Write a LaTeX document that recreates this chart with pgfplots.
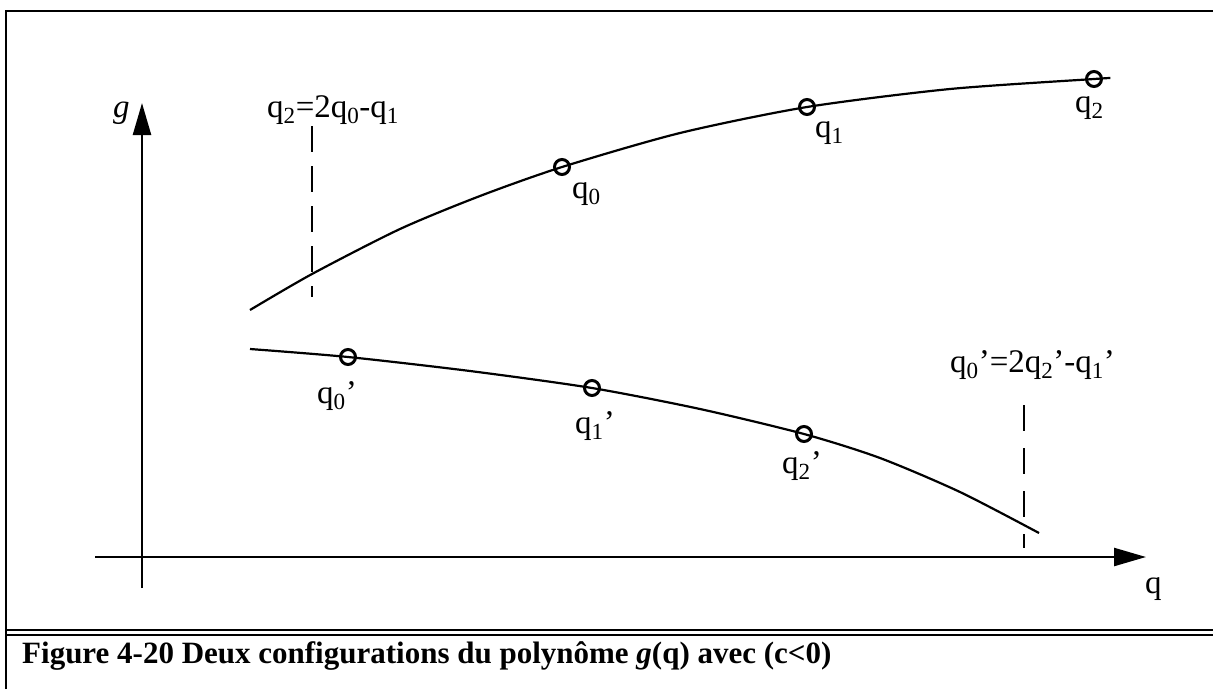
\documentclass[border=0pt]{standalone}
\usepackage{pgfplots}
\pgfplotsset{compat=1.18}
\usepackage{fontspec}
\setmainfont{Liberation Serif}
\usetikzlibrary{arrows.meta}
\begin{document}
\begin{tikzpicture}
\begin{axis}[
  x=1pt, y=1pt, scale only axis,
  xmin=0, xmax=1213, ymin=0, ymax=689, y dir=reverse,
  hide axis, clip=false,
]
% upper curve g(q)
\addplot[black, line width=2.2pt, smooth, tension=0.45] coordinates {
 (250,310) (312,274) (400,229) (480,196) (562,167) (680,133) (807,107) (950,89) (1094,79) (1110,78)};
\addplot[only marks, mark=o, mark size=7.5pt, mark options={line width=3pt, fill=white, draw=black}] coordinates {
 (562,167) (807,107) (1094,79)};
% lower curve
\addplot[black, line width=2.2pt, smooth, tension=0.45] coordinates {
 (250,349) (348,357) (470,371) (592,388) (700,409) (804,434) (880,458) (960,492) (1039,533)};
\addplot[only marks, mark=o, mark size=7.5pt, mark options={line width=3pt, fill=white, draw=black}] coordinates {
 (348,357) (592,388) (804,434)};
% dashed construction lines
\addplot[black, line width=2pt, dash pattern=on 26pt off 14pt] coordinates {(312,126) (312,297)};
\addplot[black, line width=2pt, dash pattern=on 26pt off 17pt] coordinates {(1024,405) (1024,548)};
% axes
\draw[line width=2.4pt, -{Triangle[length=32pt,width=18pt]}] (axis cs:142,588) -- (axis cs:142,103);
\draw[line width=2.4pt, -{Triangle[length=32pt,width=18pt]}] (axis cs:95,557) -- (axis cs:1146,557);
% frame
\draw[line width=2.6pt] (axis cs:6,689) -- (axis cs:6,11) -- (axis cs:1213,11);
\draw[line width=2pt] (axis cs:6,630) -- (axis cs:1213,630);
\draw[line width=2pt] (axis cs:6,635) -- (axis cs:1213,635);
% labels
\node[anchor=base west, inner sep=0pt] at (axis cs:113,117) {\fontsize{33}{38}\selectfont\textit{g}};
\node[anchor=base west, inner sep=0pt] at (axis cs:1145,593) {\fontsize{33}{38}\selectfont q};
\node[anchor=base west, inner sep=0pt] at (axis cs:267,117) {\fontsize{33}{38}\selectfont q\textsubscript{2}=2q\textsubscript{0}-q\textsubscript{1}};
\node[anchor=base west, inner sep=0pt] at (axis cs:572,198) {\fontsize{33}{38}\selectfont q\textsubscript{0}};
\node[anchor=base west, inner sep=0pt] at (axis cs:815,137) {\fontsize{33}{38}\selectfont q\textsubscript{1}};
\node[anchor=base west, inner sep=0pt] at (axis cs:1075,112) {\fontsize{33}{38}\selectfont q\textsubscript{2}};
\node[anchor=base west, inner sep=0pt] at (axis cs:317,403) {\fontsize{33}{38}\selectfont q\textsubscript{0}’};
\node[anchor=base west, inner sep=0pt] at (axis cs:575,433) {\fontsize{33}{38}\selectfont q\textsubscript{1}’};
\node[anchor=base west, inner sep=0pt] at (axis cs:782,473) {\fontsize{33}{38}\selectfont q\textsubscript{2}’};
\node[anchor=base west, inner sep=0pt] at (axis cs:950,372) {\fontsize{33}{38}\selectfont q\textsubscript{0}’=2q\textsubscript{2}’-q\textsubscript{1}’};
% caption
\node[anchor=base west, inner sep=0pt] at (axis cs:22,663) {\fontsize{31}{36}\selectfont\bfseries Figure 4-20 Deux configurations du polynôme \textit{g}(q) avec (c<0)};
\coordinate (BL) at (axis cs:0,689);
\coordinate (TR) at (axis cs:1213,0);
\end{axis}
\pgfresetboundingbox
\path[use as bounding box] (BL) rectangle (TR);
\end{tikzpicture}
\end{document}
